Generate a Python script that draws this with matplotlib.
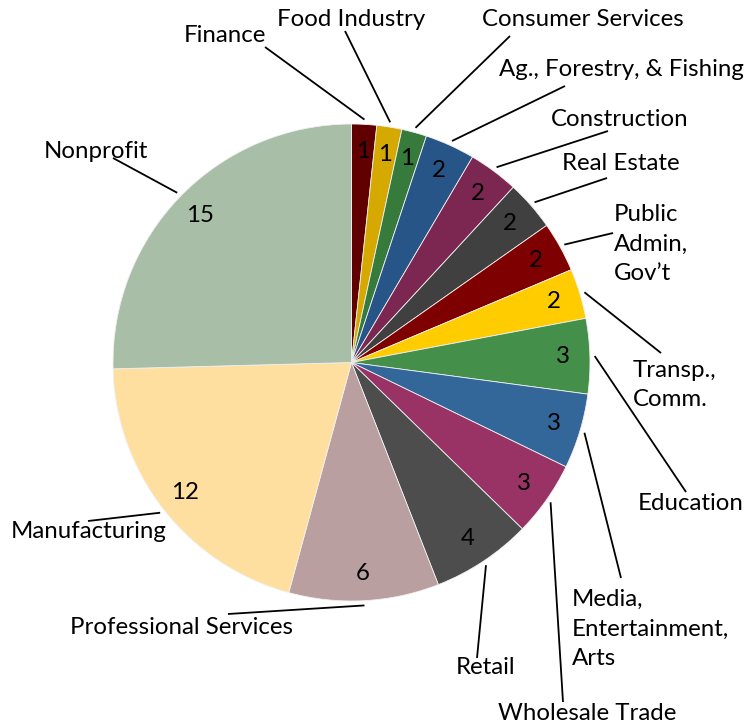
import numpy as np
import matplotlib
matplotlib.use('Agg')
import matplotlib.pyplot as plt

plt.rcParams['font.family'] = ['Lato', 'DejaVu Sans']

# Organisations by sector (counts)
sectors = ['Finance', 'Food Industry', 'Consumer Services', 'Ag., Forestry, & Fishing',
           'Construction', 'Real Estate', 'Public\nAdmin,\nGov\u2019t', 'Transp.,\nComm.',
           'Education', 'Media,\nEntertainment,\nArts', 'Wholesale Trade', 'Retail',
           'Professional Services', 'Manufacturing', 'Nonprofit']
counts = [1, 1, 1, 2, 2, 2, 2, 2, 3, 3, 3, 4, 6, 12, 15]
colors = ['#600000', '#d6a900', '#367a3c', '#285587', '#7b2752', '#404040', '#7f0000',
          '#ffcc00', '#448f4a', '#336699', '#993366', '#4d4d4d', '#b99f9f', '#fedf9f',
          '#a8bea6']

# label placement in pixel coordinates (x, y from top), alignment, leader start
label_xy = [(225, 35), (351, 19), (583, 19), (621, 69), (620, 120), (621, 163),
            (614, 244), (633, 385), (691, 503), (572, 629), (587, 713), (486, 668),
            (182, 628), (89, 531), (96, 151)]
label_ha = ['center', 'center', 'center', 'center', 'center', 'center', 'left', 'left',
            'center', 'left', 'center', 'center', 'center', 'center', 'center']
leader_start = [(265, 47), (345, 31), (510, 36), (565, 86), (608, 131), (607, 178),
                (613, 233), (661, 353), (686, 492), (621, 578), (563, 702), (477, 658),
                (228, 614), (88, 521), (113, 158)]

W, H = 747, 727
cx, cy, R = 351.5, 362.5, 238.5

fig = plt.figure(figsize=(W / 100, H / 100), dpi=100)
ax = fig.add_axes([0, 0, 1, 1])

wedges, _ = ax.pie(counts, colors=colors, startangle=90, counterclock=False,
                   center=(cx, H - cy), radius=R,
                   wedgeprops=dict(linewidth=0.6, edgecolor='#f0f0f0'))

fs = 17.3
for w, n, name, (tx, ty), ha, (sx, sy) in zip(wedges, counts, sectors, label_xy,
                                               label_ha, leader_start):
    mid = np.deg2rad((w.theta1 + w.theta2) / 2)
    # value inside the wedge
    ax.text(cx + 0.885 * R * np.cos(mid), H - cy + 0.885 * R * np.sin(mid), str(n),
            ha='center', va='center', fontsize=fs, color='black')
    # leader line from label to the rim
    ex, ey = cx + 1.02 * R * np.cos(mid), H - cy + 1.02 * R * np.sin(mid)
    ax.plot([sx, ex], [H - sy, ey], color='black', lw=1.3, solid_capstyle='butt')
    ax.text(tx, H - ty, name, ha=ha, va='center', fontsize=fs, color='black',
            multialignment='left', linespacing=1.5)

ax.set_xlim(0, W)
ax.set_ylim(0, H)
ax.set_aspect('equal')
ax.axis('off')

fig.savefig('out.png', dpi=100, facecolor='white')
